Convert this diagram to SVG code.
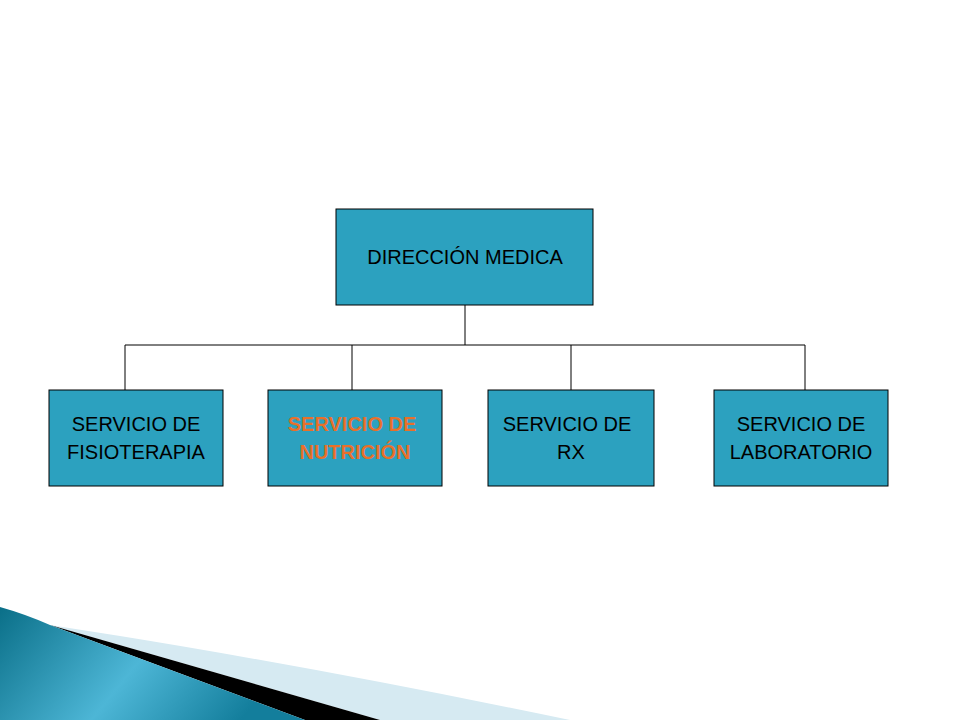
<svg xmlns="http://www.w3.org/2000/svg" width="960" height="720" viewBox="0 0 960 720">
<defs>
<style>
.box{fill:#2CA1BF;stroke:#000;stroke-width:1}
.t{font-family:"Liberation Sans",Arial,sans-serif;font-size:20px;fill:#000;text-anchor:middle}
.o{fill:#E8702A;font-weight:bold}
.c{stroke:#000;stroke-width:1;fill:none}
</style>
<linearGradient id="g" x1="0" y1="0" x2="1" y2="0.3">
<stop offset="0" stop-color="#0A6F88"/>
<stop offset="0.55" stop-color="#4DB6D6"/>
<stop offset="1" stop-color="#137E9C"/>
</linearGradient>
</defs>
<rect width="960" height="720" fill="#fff"/>
<g id="decor">
<path d="M50,625 L120,636 Q330,670 570,720 L380,720 Z" fill="#D6EAF2"/>
<path d="M50,625 L380,720 L305,720 Z" fill="#000"/>
<path d="M0,607 Q25,614 50,625 L305,720 L0,720 Z" fill="url(#g)"/>
</g>
<g id="connectors">
<path class="c" d="M465,305 V345 M125,390 V345 H805 V390 M352,345 V390 M571,345 V390"/>
</g>
<g id="n0"><rect class="box" x="336" y="209" width="257" height="96"/><text class="t" x="465" y="264">DIRECCIÓN MEDICA</text></g>
<g id="n1"><rect class="box" x="49" y="390" width="174" height="96"/><text class="t" x="136" y="431">SERVICIO DE</text><text class="t" x="136" y="459">FISIOTERAPIA</text></g>
<g id="n2"><rect class="box" x="268" y="390" width="174" height="96"/><text class="t o" x="352" y="431">SERVICIO DE</text><text class="t o" x="355" y="459">NUTRICIÓN</text></g>
<g id="n3"><rect class="box" x="488" y="390" width="166" height="96"/><text class="t" x="567" y="431">SERVICIO DE</text><text class="t" x="571" y="459">RX</text></g>
<g id="n4"><rect class="box" x="714" y="390" width="174" height="96"/><text class="t" x="801" y="431">SERVICIO DE</text><text class="t" x="801" y="459">LABORATORIO</text></g>
</svg>
